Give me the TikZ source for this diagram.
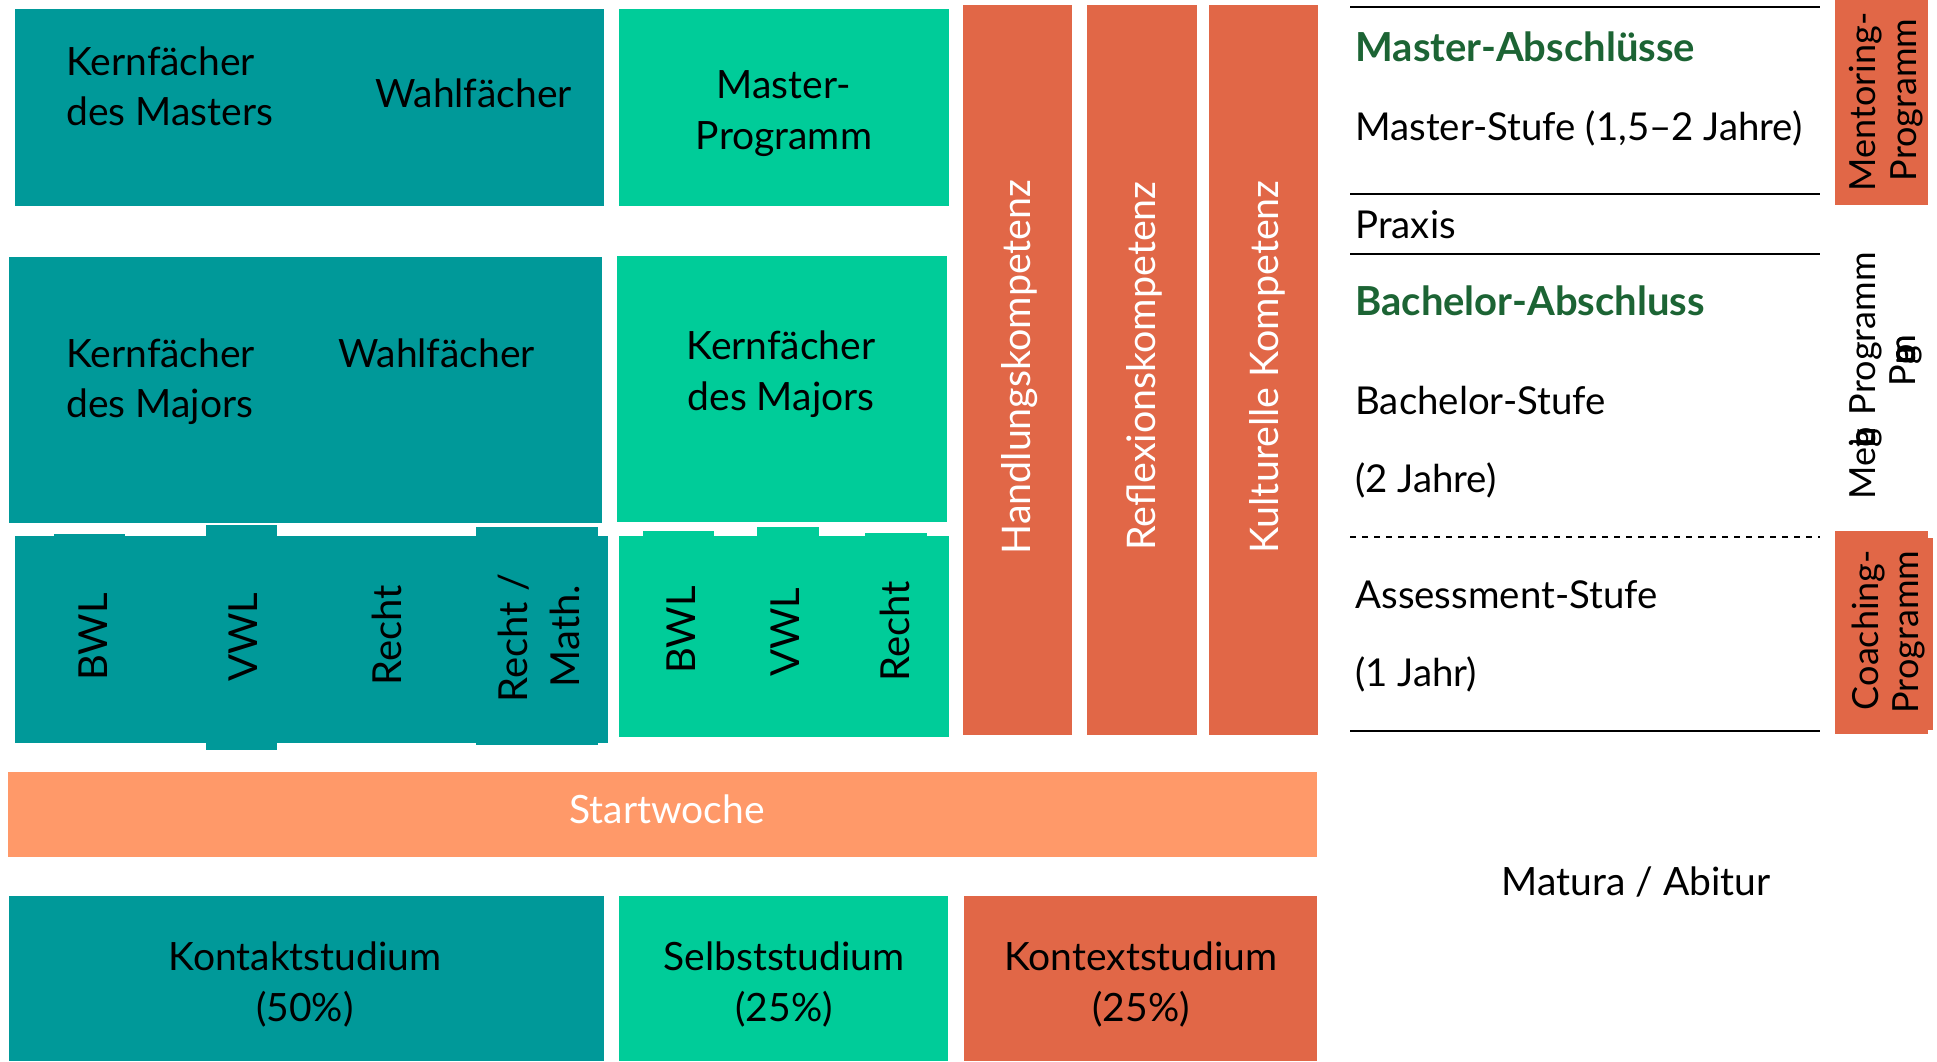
\documentclass[tikz,border=0pt]{standalone}
\usepackage{fontspec}
\setmainfont{Lato}
\definecolor{cteal}{RGB}{0,153,153}
\definecolor{cgreen}{RGB}{0,204,153}
\definecolor{corange}{RGB}{225,103,71}
\definecolor{cpeach}{RGB}{255,153,105}
\definecolor{cdgreen}{RGB}{28,100,52}
\tikzset{
  tx/.style={inner sep=0pt, anchor=base, font=\fontsize{19.5}{25}\selectfont},
  txw/.style={tx, anchor=base west},
  rt/.style={inner sep=0pt, anchor=base, rotate=90, font=\fontsize{19.7}{25}\selectfont},
  rtsmall/.style={rt, font=\fontsize{20}{25}\selectfont},
  rtprog/.style={rt, font=\fontsize{18}{21}\selectfont},
  rtgarb/.style={inner sep=0pt, anchor=base west, rotate=90, font=\fontsize{18}{21}\selectfont},
  side/.style={txw, font=\fontsize{19.2}{25}\selectfont},
  head/.style={txw, font=\fontsize{20}{25}\selectfont\bfseries, text=cdgreen},
  rule/.style={line width=1.1pt, black},
}
\begin{document}
\begin{tikzpicture}[x=0.5pt,y=-0.5pt]
\useasboundingbox (0,0) rectangle (1937,1061);
\fill[white] (0,0) rectangle (1937,1061);
% top row
\fill[cteal] (15,9) rectangle (604,206);
\fill[cgreen] (619,9) rectangle (949,206);
% competence columns
\fill[corange] (963,5) rectangle (1072,735);
\fill[corange] (1087,5) rectangle (1197,735);
\fill[corange] (1209,5) rectangle (1318,735);
% middle row
\fill[cteal] (9,257) rectangle (602,523);
\fill[cgreen] (617,256) rectangle (947,522);
% subject row
\fill[cteal] (15,536) rectangle (608,743);
\fill[cteal] (54,534) rectangle (125,536);
\fill[cteal] (206,525) rectangle (277,750);
\fill[cteal] (476,527) rectangle (598,745);
\fill[cgreen] (619,536) rectangle (949,737);
\fill[cgreen] (643,531) rectangle (714,536);
\fill[cgreen] (757,527) rectangle (819,536);
\fill[cgreen] (865,533) rectangle (927,536);
% Startwoche
\fill[cpeach] (8,772) rectangle (1317,857);
% bottom row
\fill[cteal] (9,896) rectangle (604,1061);
\fill[cgreen] (619,896) rectangle (948,1061);
\fill[corange] (964,896) rectangle (1317,1061);
% right programme boxes
\fill[corange] (1835,0) rectangle (1928,205);
\fill[corange] (1835,531) rectangle (1928,734);
\fill[corange] (1928,538) rectangle (1933,730);
% level rules
\draw[rule] (1350,7) -- (1820,7);
\draw[rule] (1350,194) -- (1820,194);
\draw[rule] (1350,254) -- (1820,254);
\draw[rule, dash pattern=on 3pt off 3pt] (1350,537) -- (1820,537);
\draw[rule] (1350,731) -- (1820,731);

% texts top row
\node[txw] (km1) at (66,75) {Kernfächer};
\node[txw] (km2) at (66,125) {des Masters};
\node[txw] (wm) at (375,107) {Wahlfächer};
\node[tx] (mp1) at (784,98) {Master-};
\node[tx] (mp2) at (784,149) {Programm};
% middle row
\node[txw] (kj1) at (66,367) {Kernfächer};
\node[txw] (kj2) at (66,417) {des Majors};
\node[txw] (wj) at (338,367) {Wahlfächer};
\node[tx] (gk1) at (781,359) {Kernfächer};
\node[tx] (gk2) at (781,410) {des Majors};
% subjects
\node[rtsmall] (s1) at (107,637) {BWL};
\node[rtsmall] (s2) at (257,637) {VWL};
\node[rtsmall] (s3) at (401,635) {Recht};
\node[rtsmall] (s4a) at (527,638) {Recht /};
\node[rtsmall] (s4b) at (579,636) {Math.};
\node[rtsmall] (g1) at (695,630) {BWL};
\node[rtsmall] (g2) at (799,632) {VWL};
\node[rtsmall] (g3) at (909,631) {Recht};
% competences
\node[rt, text=white] (c1) at (1030,367) {Handlungskompetenz};
\node[rt, text=white] (c2) at (1155,366) {Reflexionskompetenz};
\node[rt, text=white] (c3) at (1278,367) {Kulturelle Kompetenz};
% Startwoche
\node[tx, text=white] (sw) at (667,823) {Startwoche};
% bottom
\node[tx] (b1a) at (305,970) {Kontaktstudium};
\node[tx] (b1b) at (305,1021) {(50\%)};
\node[tx] (b2a) at (784,970) {Selbststudium};
\node[tx] (b2b) at (784,1021) {(25\%)};
\node[tx] (b3a) at (1141,970) {Kontextstudium};
\node[tx] (b3b) at (1141,1021) {(25\%)};
% right side
\node[head] (ma) at (1355,61) {Master-Abschlüsse};
\node[side] (ms) at (1355,140) {Master-Stufe (1,5–2 Jahre)};
\node[side] (pr) at (1355,238) {Praxis};
\node[head] (ba) at (1355,315) {Bachelor-Abschluss};
\node[side] (bs1) at (1355,414) {Bachelor-Stufe};
\node[side] (bs2) at (1355,492) {(2 Jahre)};
\node[side] (as1) at (1355,608) {Assessment-Stufe};
\node[side] (as2) at (1355,686) {(1 Jahr)};
\node[tx] (mat) at (1636,895) {Matura / Abitur};
% programmes
\node[rtprog] (mo1) at (1875,102) {Mentoring-};
\node[rtprog] (mo2) at (1916,100) {Programm};
\node[rtprog] (co1) at (1878,630) {Coaching-};
\node[rtprog] (co2) at (1918,632) {Programm};
\node[rtgarb] (gb1) at (1875,500) {Me\rlap{n}\rlap{t}\rlap{o}\rlap{r}\rlap{i}\rlap{n}g\kern7pt Programm};
\node[rtgarb] (gb2) at (1915,387) {P\rlap{r}\rlap{o}\rlap{g}\rlap{r}\rlap{a}\rlap{m}m};
\end{tikzpicture}
\end{document}
